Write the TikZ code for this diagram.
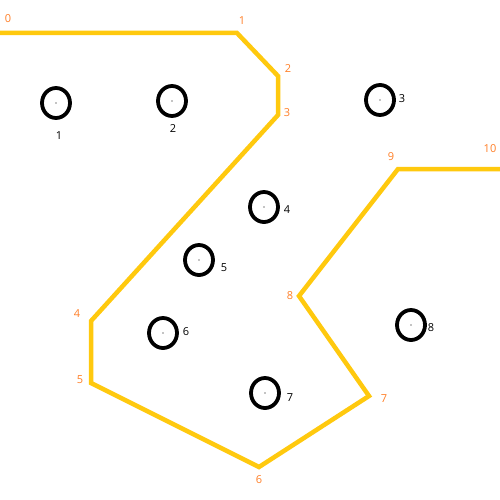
\documentclass[tikz,border=0pt]{standalone}
\usepackage{fontspec}
\setmainfont{Open Sans}
\definecolor{gold}{HTML}{FFC90E}
\definecolor{lblorange}{HTML}{FF7F27}
\begin{document}
\begin{tikzpicture}[x=1pt,y=-1pt,
  route/.style={draw=gold,line width=4.5pt,line join=miter},
  wpt/.style={inner sep=0pt,text=lblorange,font=\fontsize{11}{11}\selectfont},
  hole/.style={draw=black,line width=3.8pt,ellipse,minimum width=0pt},
  hlbl/.style={inner sep=0pt,text=black,font=\fontsize{11}{11}\selectfont}]
\useasboundingbox (0,0) rectangle (500,500);
\fill[white] (0,0) rectangle (500,500);
% route coordinates
\coordinate (p0) at (0,33);
\coordinate (p1) at (237,33);
\coordinate (p2) at (278,76);
\coordinate (p3) at (278,115);
\coordinate (p4) at (91,321);
\coordinate (p5) at (91,383);
\coordinate (p6) at (259,467);
\coordinate (p7) at (369,396);
\coordinate (p8) at (299,296);
\coordinate (p9) at (398,169);
\coordinate (p10) at (500,169);
\draw[route] (p0) -- (p1) -- (p2) -- (p3) -- (p4) -- (p5) -- (p6) -- (p7) -- (p8) -- (p9) -- (p10);
% waypoint labels
\node[wpt] (w0) at (8,19) {0};
\node[wpt] (w1) at (242,21) {1};
\node[wpt] (w2) at (288,69) {2};
\node[wpt] (w3) at (287,113) {3};
\node[wpt] (w4) at (77,314) {4};
\node[wpt] (w5) at (80,380) {5};
\node[wpt] (w6) at (259,480) {6};
\node[wpt] (w7) at (384,399) {7};
\node[wpt] (w8) at (290,296) {8};
\node[wpt] (w9) at (391,157) {9};
\node[wpt] (w10) at (490,149) {10};
% holes
\foreach \n/\x/\y in {1/56/103,2/172/101,3/380/100,4/264/207,5/199/260,6/163/333,7/265/393,8/411/325}{
  \draw[black,line width=3.8pt] (\x,\y) ellipse [x radius=14,y radius=15];
  \fill[black] (\x,\y) circle [radius=0.6];
}
% hole labels
\node[hlbl] (h1) at (59,136) {1};
\node[hlbl] (h2) at (173,129) {2};
\node[hlbl] (h3) at (402,99) {3};
\node[hlbl] (h4) at (287,210) {4};
\node[hlbl] (h5) at (224,268) {5};
\node[hlbl] (h6) at (186,332) {6};
\node[hlbl] (h7) at (290,398) {7};
\node[hlbl] (h8) at (431,328) {8};
\end{tikzpicture}
\end{document}
